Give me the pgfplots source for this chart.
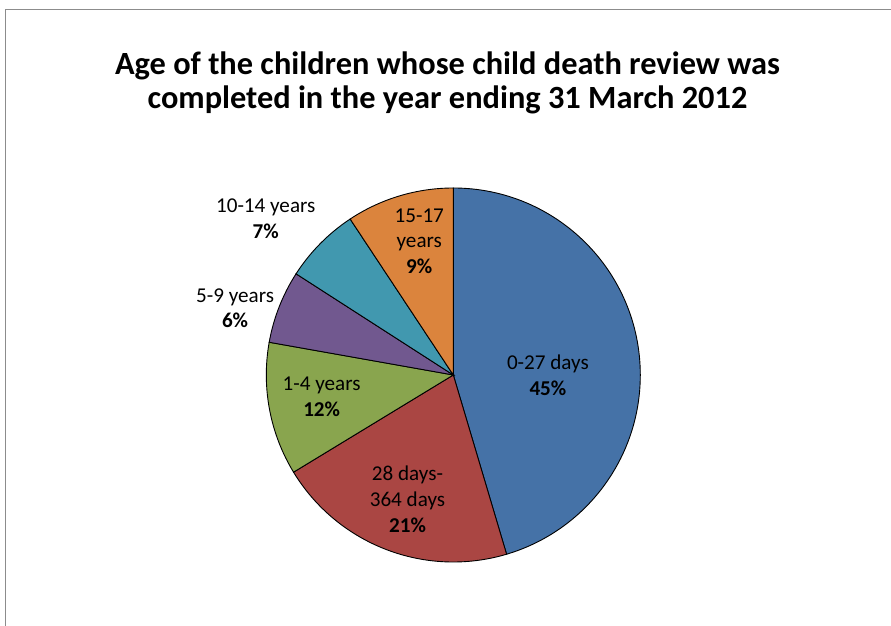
\documentclass[border=0pt]{standalone}
\usepackage{pgfplots}
\pgfplotsset{compat=1.18}
\usepackage{pgfplotstable}
\usepackage{fontspec}
\setmainfont{Carlito}
\definecolor{slice0}{HTML}{4572A7}
\definecolor{slice1}{HTML}{AA4643}
\definecolor{slice2}{HTML}{89A54E}
\definecolor{slice3}{HTML}{71588F}
\definecolor{slice4}{HTML}{4198AF}
\definecolor{slice5}{HTML}{DB843D}
\definecolor{framegray}{HTML}{8C8C8C}
\pgfplotstableread{
value
45.4
20.9
11.5
6.3
6.6
9.3
}\piedata
\begin{document}
\begin{tikzpicture}[x=1bp,y=1bp]
\path[use as bounding box] (0,0) rectangle (891,626);
\draw[framegray, line width=1.5bp] (5.5,0) -- (5.5,616.5) -- (891,616.5);
\node[anchor=base, font=\fontsize{32.5}{38}\selectfont\bfseries] at (447.5,551) {Age of the children whose child death review was};
\node[anchor=base, font=\fontsize{32.5}{38}\selectfont\bfseries] at (447.5,517) {completed in the year ending 31 March 2012};
\coordinate (pc) at (266.3,64);
\begin{axis}[at={(pc)}, anchor=south west, width=374bp, height=374bp, scale only axis,
  xmin=-1, xmax=1, ymin=-1, ymax=1, hide axis, clip=false]
\def\cum{0}
\pgfplotsforeachungrouped \i in {0,...,5}{
  \pgfplotstablegetelem{\i}{value}\of\piedata
  \pgfmathsetmacro\a{90-3.6*\cum}
  \pgfmathsetmacro\cumnew{\cum+\pgfplotsretval}
  \pgfmathsetmacro\b{90-3.6*\cumnew}
  \pgfmathsetmacro\ca{cos(\a)}
  \pgfmathsetmacro\sa{sin(\a)}
  \edef\temp{\noexpand\filldraw[fill=slice\i, draw=black, line width=0.9bp] (axis cs:0,0) -- (axis cs:\ca,\sa) arc[start angle=\a, end angle=\b, radius=187bp] -- cycle;}
  \temp
  \global\let\cum\cumnew
}
\begin{scope}[every node/.style={align=center, font=\fontsize{21.2}{26}\selectfont, text=black}]
\node at (axis cs:0.506,0.0) {0-27 days\\\textbf{45\%}};
\node at (axis cs:-0.245,-0.665) {28 days-\\364 days\\\textbf{21\%}};
\node at (axis cs:-0.704,-0.118) {1-4 years\\\textbf{12\%}};
\node at (axis cs:-1.167,0.357) {5-9 years\\\textbf{6\%}};
\node at (axis cs:-1.003,0.838) {10-14 years\\\textbf{7\%}};
\node at (axis cs:-0.182,0.715) {15-17\\years\\\textbf{9\%}};
\end{scope}
\end{axis}
\end{tikzpicture}
\end{document}
